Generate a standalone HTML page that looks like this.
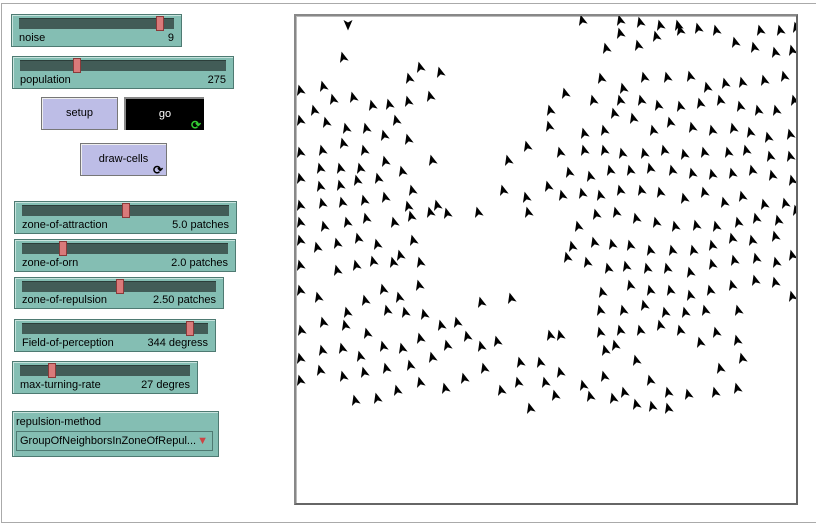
<!DOCTYPE html>
<html><head><meta charset="utf-8">
<style>
body{margin:0;width:816px;height:524px;background:#fff;position:relative;overflow:hidden;font-family:"Liberation Sans",sans-serif;font-size:11px;color:#000}
.frame{position:absolute;left:1px;top:3px;width:830px;height:518px;border-top:1px solid #aaa;border-left:1px solid #aaa;border-bottom:1px solid #aaa}
.slider{position:absolute;background:#84beb3;border:1px solid #4e7a72;box-shadow:inset 1px 1px 0 #c8e4de}
.track{position:absolute;left:7px;right:7px;top:3px;height:10px;background:#425c57;border-top:1px solid #2c3e3a}
.handle{position:absolute;top:1px;width:8px;height:15px;background:#d97a7a;border:1px solid #8a3a3a;box-sizing:border-box}
.lbl{position:absolute;left:7px;bottom:2px}
.val{position:absolute;right:7px;bottom:2px}
.btn{position:absolute;background:#bdbde6;border:1px solid #777;box-shadow:inset 1px 1px 0 #eee;text-align:center}
.world{position:absolute;left:294px;top:14px;width:500px;height:487px;border:2px solid #888;border-right-color:#666;border-bottom-color:#666;background:#fff;box-shadow:inset 1px 1px 0 #bbb}
</style></head><body>
<div class="frame"></div>

<div class="slider" style="left:11px;top:14px;width:169px;height:31px">
 <div class="track"></div><div class="handle" style="left:144px"></div>
 <span class="lbl">noise</span><span class="val">9</span></div>
<div class="slider" style="left:12px;top:56px;width:220px;height:31px">
 <div class="track"></div><div class="handle" style="left:60px"></div>
 <span class="lbl">population</span><span class="val">275</span></div>

<div class="btn" style="left:41px;top:97px;width:75px;height:31px;line-height:31px">setup</div>
<div class="btn" style="left:124px;top:97px;width:78px;height:31px;line-height:31px;background:#000;color:#fff;border-color:#888;border-width:2px 0 0 2px;box-shadow:none">go<span style="position:absolute;right:3px;bottom:-11px;color:#3c3;font-size:12px;font-weight:bold">⟳</span></div>
<div class="btn" style="left:80px;top:143px;width:85px;height:31px;line-height:31px">draw-cells<span style="position:absolute;right:3px;bottom:-11px;font-size:12px;font-weight:bold">⟳</span></div>

<div class="slider" style="left:14px;top:201px;width:221px;height:31px">
 <div class="track"></div><div class="handle" style="left:107px"></div>
 <span class="lbl">zone-of-attraction</span><span class="val">5.0 patches</span></div>
<div class="slider" style="left:14px;top:239px;width:220px;height:31px">
 <div class="track"></div><div class="handle" style="left:44px"></div>
 <span class="lbl">zone-of-orn</span><span class="val">2.0 patches</span></div>
<div class="slider" style="left:14px;top:277px;width:208px;height:30px">
 <div class="track"></div><div class="handle" style="left:101px"></div>
 <span class="lbl">zone-of-repulsion</span><span class="val">2.50 patches</span></div>
<div class="slider" style="left:14px;top:319px;width:200px;height:31px">
 <div class="track"></div><div class="handle" style="left:171px"></div>
 <span class="lbl">Field-of-perception</span><span class="val">344 degress</span></div>
<div class="slider" style="left:12px;top:361px;width:184px;height:31px">
 <div class="track"></div><div class="handle" style="left:35px"></div>
 <span class="lbl">max-turning-rate</span><span class="val">27 degres</span></div>

<div class="slider" style="left:12px;top:411px;width:205px;height:44px">
 <span style="position:absolute;left:3px;top:4px">repulsion-method</span>
 <div style="position:absolute;left:3px;top:19px;width:197px;height:20px;border:1px solid #4e7a72;box-sizing:border-box;line-height:18px;padding-left:3px">GroupOfNeighborsInZoneOfRepul...<span style="position:absolute;right:4px;top:0;color:#c44">▼</span></div>
</div>

<div class="world">
<svg id="w" width="500" height="487" style="position:absolute;left:0;top:0"></svg>
</div>

<script>
const xs=[348,343,420,440,409,300,323,333,353,372,389,408,430,396,314,300,326,346,366,384,300,322,343,364,408,432,385,300,320,340,360,402,300,320,340,357,378,412,300,322,342,364,385,408,430,300,324,347,366,394,411,437,300,317,337,358,377,400,413,337,356,373,393,420,300,318,347,365,383,399,419,301,323,345,367,387,405,424,300,322,342,360,383,402,420,441,457,481,511,300,320,343,364,386,410,432,447,467,481,497,550,355,377,397,420,445,464,484,501,520,518,540,545,560,530,555,583,604,624,590,613,636,652,668,650,668,688,715,737,720,742,716,737,700,680,660,640,620,600,615,636,605,560,600,623,644,665,685,705,738,650,670,690,710,732,755,775,792,630,602,567,587,608,626,647,667,690,712,734,756,776,792,572,594,612,630,650,672,693,712,732,752,775,578,596,616,636,656,675,696,716,738,756,778,796,503,526,548,478,447,528,562,582,600,620,641,660,684,704,724,742,764,785,569,590,610,630,650,672,692,712,732,752,772,792,508,527,560,584,604,622,644,664,684,704,728,746,770,790,550,549,565,593,614,633,653,670,692,712,733,750,768,790,584,604,601,623,644,667,690,707,725,742,764,784,620,641,658,680,700,720,740,758,776,794,606,620,638,656,678,698,716,735,754,775,792,582,620,640,660,680,760,780,796];
const ys=[25,57,67,72,78,90,86,99,97,105,104,101,96,120,110,120,122,128,128,135,152,150,143,150,139,160,161,178,168,168,168,171,205,186,185,180,178,190,222,203,202,200,197,206,212,240,226,222,218,222,216,205,265,247,243,238,244,255,240,270,265,261,262,262,290,297,312,300,289,297,285,330,322,325,333,310,312,314,358,350,348,356,346,348,338,325,322,302,298,380,370,376,372,368,365,357,345,336,346,341,335,400,398,390,382,388,378,368,390,362,382,362,382,372,408,395,385,376,392,396,398,404,406,408,380,392,394,392,388,368,358,332,340,342,330,325,330,330,332,345,360,350,335,310,310,305,312,312,310,310,290,290,295,290,285,280,282,296,285,292,257,262,268,266,268,268,272,264,260,258,262,255,246,242,244,245,250,250,250,245,238,240,236,226,214,212,218,222,226,225,226,222,218,220,210,190,197,186,212,213,212,195,193,195,190,190,192,198,192,202,196,204,203,172,176,170,170,168,170,173,174,173,170,175,180,160,146,152,150,150,153,153,150,154,152,152,150,156,156,110,126,93,100,113,118,130,122,127,130,128,132,137,134,133,130,78,88,77,77,76,87,83,82,80,76,100,100,105,106,103,100,106,110,110,100,48,33,45,36,25,28,30,42,47,52,50,20,20,22,25,30,30,30,27];
const svg=document.getElementById('w');
const NS='http://www.w3.org/2000/svg';
for(let i=0;i<xs.length;i++){
  const p=document.createElementNS(NS,'path');
  
  
  const x=xs[i]-296,y=ys[i]-16;
  const rot=(i===0)?180:-15;
  p.setAttribute('d','M0,-5.5 L4.5,5 L0,2.5 L-4.5,5 Z');
  p.setAttribute('fill','#000');
  p.setAttribute('transform','translate('+x+','+y+') rotate('+rot+')');
  svg.appendChild(p);
}
</script>
</body></html>
